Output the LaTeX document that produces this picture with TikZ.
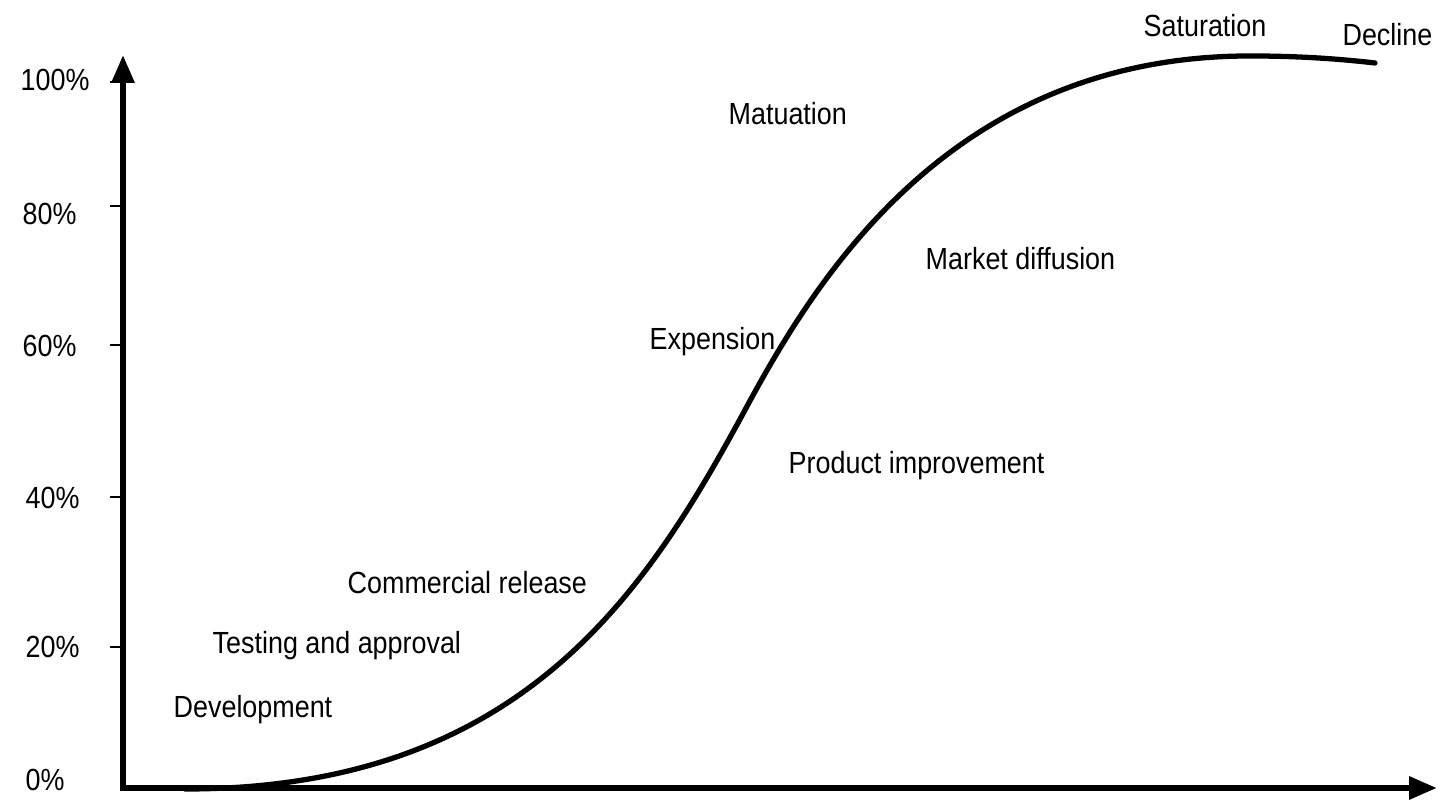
\documentclass[tikz,border=0pt]{standalone}
\usepackage{fontspec}
\setmainfont{Liberation Sans}[FakeStretch=0.88]
\usepackage{tikz}
\usetikzlibrary{arrows.meta,positioning,calc}

\begin{document}
\begin{tikzpicture}[
		>={Triangle[length=2.8mm,width=2.2mm]},
		axis/.style={
			<->,
			line width=1.7pt,
			line join=miter
		},
		tick/.style={
			line width=0.6pt
		},
		phase/.style={
			anchor=west,
			inner sep=0pt,
			font=\fontsize{8.7pt}{10pt}\selectfont,
			text height=2.15mm,
			text depth=0pt
		},
		curve/.style={
			line width=1.5pt,
			line cap=round
		}
		]
		\useasboundingbox (0,0) rectangle (14.41,8.01);
		% axes
		\coordinate (O) at (1.23,0.13);
		\coordinate (ytip) at (1.23,7.46);
		\coordinate (xtip) at (14.37,0.13);
		\draw[axis] (ytip) -- (O) -- (xtip);
		\foreach \y in {7.19,5.95,4.56,3.04,1.54}
			\draw[tick] (1.10,\y) -- (1.22,\y);
		% percent labels
		\node[phase] (p100) at (0.20,7.21) {100\%};
		\node[phase] (p80) at (0.22,5.87) {80\%};
		\node[phase] (p60) at (0.22,4.55) {60\%};
		\node[phase] (p40) at (0.25,3.03) {40\%};
		\node[phase] (p20) at (0.25,1.54) {20\%};
		\node[phase] (p0) at (0.25,0.21) {0\%};
		% s-curve
		\coordinate (start) at (1.85,0.12);
		\coordinate (bend) at (7.45,3.91);
		\coordinate (top) at (12.50,7.45);
		\coordinate (finish) at (13.75,7.38);
		\draw[curve] (start) .. controls (5.20,0.12) and (6.45,2.06) .. (bend)
			.. controls (8.15,5.21) and (9.50,7.45) .. (top)
			.. controls (13.00,7.45) and (13.40,7.42) .. (finish);
		% phases
		\node[phase] (dev) at (1.73,0.94) {Development};
		\node[phase] (test) at (2.12,1.58) {Testing and approval};
		\node[phase] (release) at (3.47,2.18) {Commercial release};
		\node[phase] (expand) at (6.49,4.62) {Expension};
		\node[phase] (improve) at (7.88,3.38) {Product improvement};
		\node[phase] (mature) at (7.28,6.87) {Matuation};
		\node[phase] (diffuse) at (9.25,5.42) {Market diffusion};
		\node[phase] (saturate) at (11.43,7.75) {Saturation};
		\node[phase,anchor=east] (decline) at (14.33,7.66) {Decline};
		\end{tikzpicture}
\end{document}
